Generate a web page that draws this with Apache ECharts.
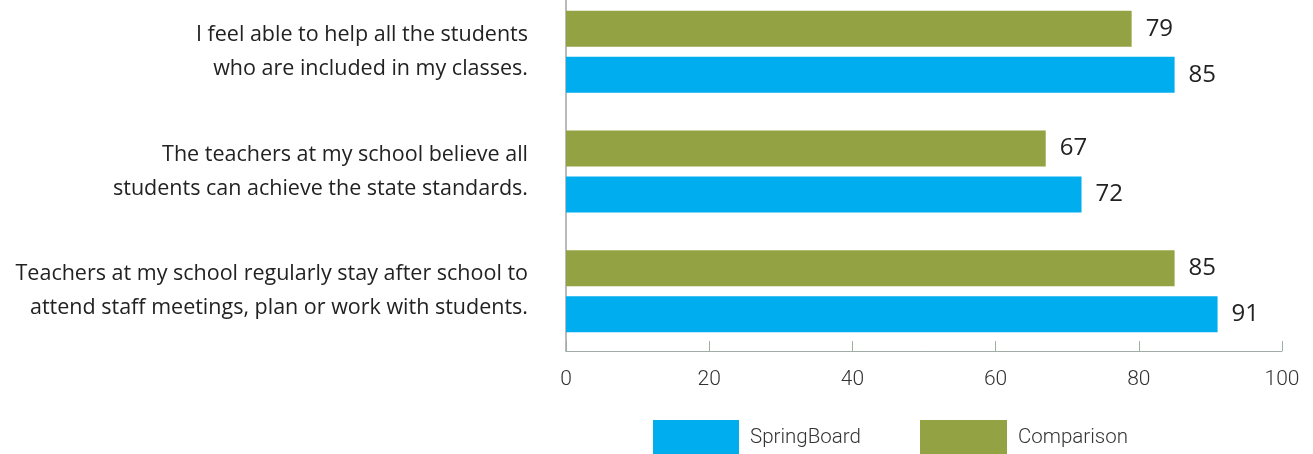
<!DOCTYPE html>
<html>
<head>
<meta charset="utf-8">
<script src="https://cdn.jsdelivr.net/npm/echarts@6/dist/echarts.min.js"></script>
<style>
  html, body { margin: 0; padding: 0; background: #fff; }
  #chart { width: 1313px; height: 454px; }
</style>
</head>
<body>
<div id="chart"></div>
<script>
// survey statements, top to bottom
var categories = [
  'I feel able to help all the students\nwho are included in my classes.',
  'The teachers at my school believe all\nstudents can achieve the state standards.',
  'Teachers at my school regularly stay after school to\nattend staff meetings, plan or work with students.'
];
var springBoard = [85, 72, 91];
var comparison = [79, 67, 85];
var xTicks = [0, 20, 40, 60, 80, 100];

var blue = '#00adee';
var olive = '#93a243';

var chart = echarts.init(document.getElementById('chart'));

var legendText = {
  fontFamily: 'Roboto', fontWeight: 300, fontSize: 20.5, color: '#333',
  padding: [5, 0, 0, 6]
};

var option = {
  animation: false,
  legend: [
    {
      data: ['SpringBoard'],
      left: 653, top: 420, padding: 0,
      itemWidth: 86, itemHeight: 36,
      icon: 'rect',
      textStyle: legendText
    },
    {
      data: ['Comparison'],
      left: 920, top: 420, padding: 0,
      itemWidth: 87, itemHeight: 36,
      icon: 'rect',
      textStyle: legendText
    }
  ],
  grid: {
    left: 566, right: 31, top: -8, bottom: 103,
    containLabel: false, outerBoundsMode: 'none'
  },
  xAxis: {
    type: 'value',
    min: xTicks[0], max: xTicks[xTicks.length - 1], interval: 20,
    axisLine: { show: true, lineStyle: { color: '#9fada4', width: 1 } },
    axisTick: { show: true, inside: true, length: 10, lineStyle: { color: '#9fada4' } },
    splitLine: { show: false },
    axisLabel: {
      margin: 18,
      fontFamily: 'Roboto', fontWeight: 300,
      fontSize: 21, color: '#333'
    }
  },
  yAxis: {
    type: 'category',
    data: categories,
    inverse: true,
    axisLine: { show: true, lineStyle: { color: '#a3a3a3', width: 1.5 } },
    axisTick: { show: false },
    axisLabel: {
      margin: 38,
      align: 'right',
      padding: [4, 0, 0, 0],
      fontFamily: '"Open Sans", sans-serif',
      fontSize: 21.5, lineHeight: 34, color: '#222'
    }
  },
  series: [
    {
      name: 'Comparison', type: 'bar', data: comparison,
      barWidth: 36, barGap: '28%',
      itemStyle: { color: olive },
      label: {
        show: true, position: 'right', distance: 14,
        fontFamily: '"Open Sans", sans-serif', fontSize: 24, color: '#222'
      }
    },
    {
      name: 'SpringBoard', type: 'bar', data: springBoard,
      barWidth: 36, barGap: '28%',
      itemStyle: { color: blue },
      label: {
        show: true, position: 'right', distance: 14,
        fontFamily: '"Open Sans", sans-serif', fontSize: 24, color: '#222'
      }
    }
  ]
};

chart.setOption(option);
</script>
</body>
</html>
